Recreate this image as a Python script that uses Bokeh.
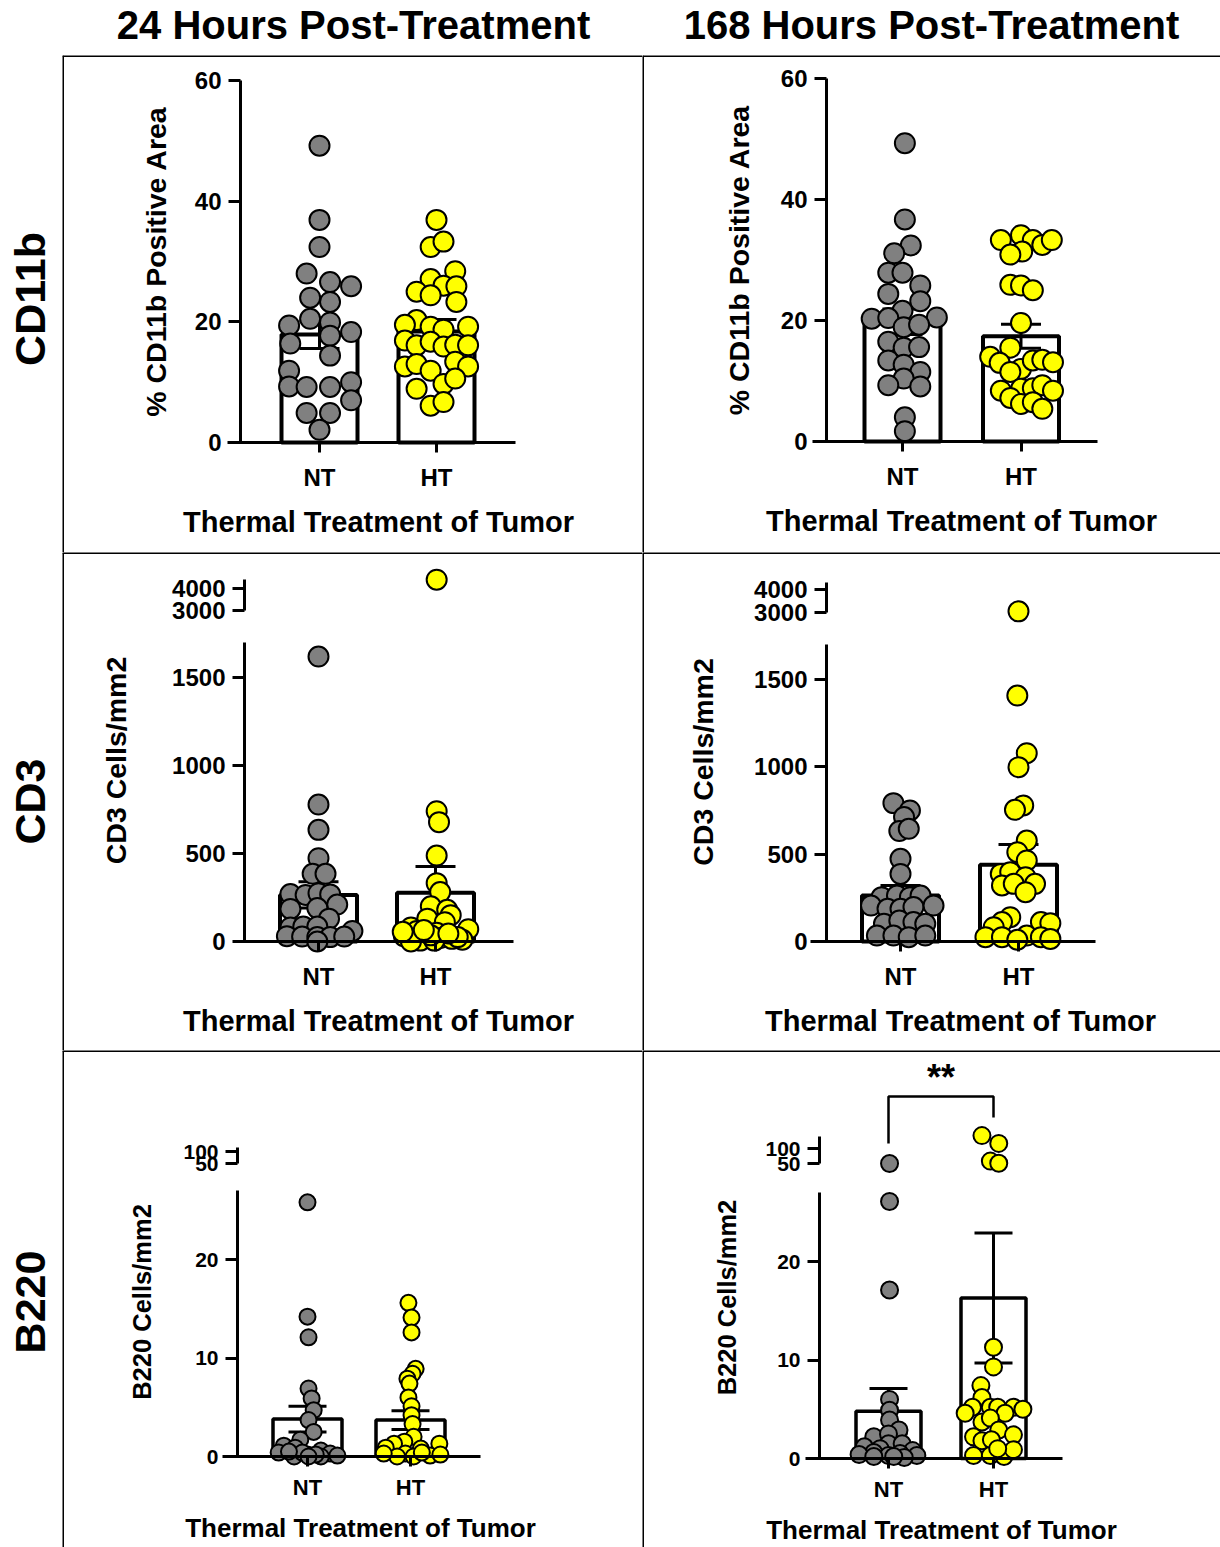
import math
from bokeh.plotting import figure
from bokeh.models import LinearAxis, FixedTicker, Range1d, Span, Label
from bokeh.core.properties import value
from bokeh.layouts import row, column
from bokeh.embed import file_html
from bokeh.resources import INLINE

FONT = "Liberation Sans"
NT_COLOR = "#808080"
HT_COLOR = "#ffff00"

col_titles = ["24 Hours Post-Treatment", "168 Hours Post-Treatment"]
row_labels = ["CD11b", "CD3", "B220"]
x_title = "Thermal Treatment of Tumor"
y_titles = ["% CD11b Positive Area", "CD3 Cells/mm2", "B220 Cells/mm2"]
groups = ["NT", "HT"]

# ---------------- data ----------------
# CD11b, 24 h
cd11b_24_nt = [49.2, 36.9, 32.4, 28.0, 26.6, 25.9, 24.0, 23.3, 20.5, 19.4, 19.9, 18.3, 17.7, 16.4, 14.4, 11.9,
               9.3, 9.2, 9.2, 10.0, 7.0, 4.9, 4.9, 2.1]
cd11b_24_nt_dx = [0, 0, 0, -0.11, 0.09, 0.27, -0.08, 0.09, -0.08, -0.26, 0.09, 0.27, 0.09, -0.25, 0.09, -0.26,
                  -0.26, -0.11, 0.09, 0.27, 0.27, -0.11, 0.09, 0]
cd11b_24_ht = [36.9, 32.4, 33.3, 28.4, 27.1, 25.0, 26.0, 25.9, 24.4, 23.3, 20.3, 19.5, 19.2, 18.7, 19.2, 16.9,
               16.1, 16.7, 15.9, 16.2, 16.1, 12.6, 13.0, 11.9, 13.4, 12.6, 8.9, 9.7, 10.6, 6.1, 6.7]
cd11b_24_ht_dx = [0, -0.05, 0.06, 0.16, -0.05, -0.17, 0.06, 0.17, -0.05, 0.17, -0.17, -0.27, -0.05, 0.06, 0.27,
                  -0.27, -0.17, -0.05, 0.06, 0.16, 0.27, -0.27, -0.17, -0.05, 0.16, 0.27, -0.17, 0.06, 0.16,
                  -0.05, 0.06]
cd11b_24_mean = [17.9, 18.4]
cd11b_24_sem = [2.3, 2.0]

# CD11b, 168 h
cd11b_168_nt = [49.3, 36.7, 32.4, 31.1, 27.9, 27.9, 25.8, 24.4, 23.2, 21.6, 20.3, 20.4, 20.5, 18.9, 19.3, 16.5,
                15.5, 15.6, 13.4, 12.7, 11.5, 10.4, 9.3, 9.1, 4.0, 1.7]
cd11b_168_nt_dx = [0.02, 0.02, 0.07, -0.07, -0.12, 0.0, 0.15, -0.12, 0.15, 0.0, -0.26, -0.12, 0.29, 0.01, 0.14,
                   -0.12, 0.01, 0.14, -0.12, 0.01, 0.15, 0.01, -0.12, 0.15, 0.02, 0.02]
cd11b_168_ht = [34.1, 33.3, 33.3, 32.5, 33.3, 31.4, 30.9, 25.9, 25.8, 25.0, 19.6, 15.5, 14.0, 13.0, 12.0, 13.4,
                13.5, 13.1, 11.5, 8.4, 8.7, 8.8, 9.3, 8.4, 7.2, 6.2, 6.5, 5.4]
cd11b_168_ht_dx = [0, -0.17, 0.10, 0.18, 0.26, 0.01, -0.09, -0.09, 0, 0.10, 0, -0.09, -0.26, -0.18, 0, 0.10,
                   0.18, 0.27, -0.09, -0.17, 0, 0.10, 0.18, 0.27, -0.09, 0, 0.10, 0.18]
cd11b_168_mean = [19.8, 17.4]
cd11b_168_sem = [2.1, 2.0]

# CD3, 24 h
cd3_24_nt = [1621, 779, 635, 474, 385, 385, 270, 265, 275, 268, 210, 185, 190, 130, 80, 85, 85, 60, 30, 28, 25,
             25, 28, 0]
cd3_24_nt_dx = [0, 0, 0, 0, -0.05, 0.06, -0.24, -0.11, 0, 0.10, 0.16, -0.24, -0.01, 0.09, -0.24, -0.13, -0.01,
                0.29, -0.27, -0.14, -0.01, 0.10, 0.22, -0.01]
cd3_24_ht = [741, 679, 489, 332, 281, 200, 180, 150, 130, 110, 80, 70, 60, 50, 40, 30, 20, 15, 10, 5, 5, 0, 25,
             35, 45, 55, 65]
cd3_24_ht_dx = [0.01, 0.03, 0.01, 0.01, 0.04, -0.04, 0.10, 0.13, -0.07, 0.08, -0.21, 0.28, -0.16, 0.01, -0.10,
                -0.27, 0.04, 0.14, 0.23, -0.13, -0.01, -0.21, 0.19, -0.04, 0.11, -0.28, -0.10]
cd3_24_ht_high = [4400]
cd3_24_ht_high_dx = [0.01]
cd3_24_mean = [265, 277]
cd3_24_sem = [75, 150]

# CD3, 168 h
cd3_168_nt = [792, 750, 712, 632, 645, 473, 387, 254, 263, 254, 263, 206, 187, 187, 197, 206, 101, 120, 111, 101,
              34, 34, 25, 34]
cd3_168_nt_dx = [-0.06, 0.08, 0.03, -0.01, 0.07, 0, 0, -0.16, -0.03, 0.08, 0.17, -0.25, -0.11, 0, 0.11, 0.28,
                 -0.14, -0.01, 0.11, 0.21, -0.20, -0.06, 0.07, 0.21]
cd3_168_ht = [1408, 1078, 998, 779, 754, 578, 511, 464, 387, 397, 368, 330, 321, 330, 282, 139, 111, 82, 111, 105,
              25, 25, 34, 25, 15, 10]
cd3_168_ht_dx = [-0.01, 0.07, 0, 0.04, -0.03, 0.07, -0.01, 0.07, -0.15, -0.07, 0.06, 0.14, -0.14, -0.04, 0.06,
                 -0.07, -0.14, -0.21, 0.19, 0.27, -0.28, -0.14, 0.07, 0.19, 0.27, -0.01]
cd3_168_ht_high = [3050]
cd3_168_ht_high_dx = [0.0]
cd3_168_mean = [263, 439]
cd3_168_sem = [57, 116]

# B220, 24 h
b220_24_nt = [25.8, 14.2, 12.1, 6.9, 5.9, 4.7, 3.7, 2.5, 1.7, 1.1, 0.9, 0.6, 0.4, 0.3, 0.2, 0.1, 0.0, 0.0, 0.4,
              0.5, 0.2, 0.0]
b220_24_nt_dx = [0, 0, 0.01, 0.01, 0.04, 0.06, 0.01, 0.06, -0.07, -0.23, -0.12, 0.13, -0.28, 0.22, 0, 0.29, -0.13,
                 0.13, -0.05, -0.18, 0.08, 0.01]
b220_24_ht = [15.6, 14.1, 12.6, 8.9, 8.4, 7.9, 7.4, 6.0, 5.1, 4.2, 3.3, 2.0, 1.5, 1.3, 0.9, 1.3, 0.8, 0.3, 0.0,
              0.3, 0.1, 0.2, 0.0, 0.4]
b220_24_ht_dx = [-0.02, 0.01, 0.01, 0.05, 0.02, -0.03, -0.01, -0.02, 0.01, 0.01, 0.02, 0.03, -0.06, -0.16, -0.24,
                 0.28, 0.10, -0.05, -0.13, -0.26, 0.19, 0.29, 0.03, 0.11]
b220_24_mean = [3.8, 3.7]
b220_24_sem = [1.3, 0.95]

# B220, 168 h
b220_168_nt = [26.1, 17.1, 6.0, 4.9, 3.9, 2.9, 2.2, 2.5, 1.5, 1.5, 1.2, 1.0, 0.8, 0.6, 0.5, 0.4, 0.3, 0.3, 0.2,
               0.1, 0.2]
b220_168_nt_dx = [0.01, 0.01, 0.01, 0.01, 0.01, 0.10, -0.14, 0, 0, 0.13, -0.23, -0.08, 0.23, -0.14, 0.11, -0.28,
                  0, 0.27, -0.14, 0.15, 0.05]
b220_168_nt_high = [50]
b220_168_nt_high_dx = [0.01]
b220_168_ht = [11.3, 9.3, 7.4, 6.2, 5.2, 5.2, 5.2, 5.2, 5.0, 4.6, 4.6, 3.7, 4.1, 2.9, 2.2, 2.4, 1.8, 1.9, 0.3, 0.3,
               0.2, 0.9, 1.0]
b220_168_ht_dx = [0, 0, -0.12, -0.11, -0.20, -0.03, 0.04, 0.19, 0.28, -0.27, 0.11, -0.11, -0.03, 0.05, -0.19,
                  0.19, -0.11, -0.02, -0.19, -0.03, 0.10, 0.19, 0.04]
b220_168_ht_high = [143, 117, 58, 51]
b220_168_ht_high_dx = [-0.11, 0.05, -0.03, 0.05]
b220_168_mean = [4.8, 16.3]
b220_168_sem = [2.3, 6.6]
sig_label = "**"

# ---------------- layout ----------------
HEAD_H = 55
STRIP_W = 62
COL_W = [580, 578]
ROW_H = [497, 498, 497]


def bare_fig(w, h, xr, yr):
    return figure(frame_width=w, frame_height=h, x_range=xr, y_range=yr, x_axis_type=None, y_axis_type=None,
                  toolbar_location=None, output_backend="svg", min_border=0, outline_line_color=None,
                  background_fill_color="white", border_fill_color="white")


def style_text_axis(ax, tick_size):
    ax.axis_line_width = 3
    ax.axis_line_color = "black"
    ax.major_tick_line_width = 3
    ax.major_tick_line_color = "black"
    ax.major_tick_in = 0
    ax.minor_tick_in = 0
    ax.minor_tick_out = 0
    ax.major_label_text_font = FONT
    ax.major_label_text_font_style = "bold"
    ax.major_label_text_font_size = tick_size
    ax.major_label_text_color = "black"


def make_panel(g, nt, nt_dx, ht, ht_dx, mean, sem, nt_hi=None, nt_hi_dx=None, ht_hi=None, ht_hi_dx=None):
    W, H = g["W"], g["H"]
    unit = g["ht"] - g["nt"]
    xo = lambda px: 1 + (px - g["nt"]) / unit
    yv = lambda py: (g["y0"] - py) / g["ppu"]
    p = bare_fig(W, H, Range1d(xo(0), xo(W)), Range1d(yv(H), yv(0)))
    yu = None
    if "upper" in g:
        (vlo, plo), (vhi, phi) = g["upper"]
        ppu_u = (plo - phi) / (vhi - vlo)
        yu = lambda py: vlo + (plo - py) / ppu_u
        p.extra_y_ranges = {"upper": Range1d(yu(H), yu(0))}

    # borders of the grid cell (left and top)
    p.add_layout(Span(location=xo(0), dimension="height", line_color="black", line_width=3))
    p.add_layout(Span(location=yv(0), dimension="width", line_color="black", line_width=3))

    ts = g["tick_font"]
    yax = LinearAxis(fixed_location=xo(g["axis_x"]), bounds=g["ybounds"], ticker=FixedTicker(ticks=g["yticks"]))
    style_text_axis(yax, ts)
    yax.major_tick_out = 12
    yax.major_label_standoff = 7
    p.add_layout(yax, "left")
    if yu is not None:
        uax = LinearAxis(y_range_name="upper", fixed_location=xo(g["axis_x"]), bounds=g["ubounds"],
                         ticker=FixedTicker(ticks=g["uticks"]))
        style_text_axis(uax, g.get("utick_font", ts))
        uax.major_tick_out = 12
        uax.major_label_standoff = 7
        p.add_layout(uax, "left")
    # y axis title, centred on the whole (possibly broken) axis
    lax = LinearAxis(fixed_location=xo(g["axis_x"]), bounds=(yv(g["ylab_px"][0]), yv(g["ylab_px"][1])),
                     ticker=FixedTicker(ticks=[]), axis_line_color=None, major_tick_out=0, major_tick_in=0,
                     minor_tick_out=0, minor_tick_in=0,
                     axis_label=g["ytitle"], axis_label_text_font=FONT, axis_label_text_font_style="bold",
                     axis_label_text_font_size=g["title_font"], axis_label_text_color="black",
                     axis_label_standoff=g["ylab_standoff"])
    p.add_layout(lax, "left")

    # x axis line + ticks at y = 0
    xline = LinearAxis(fixed_location=0, bounds=(xo(g["xax"][0]), xo(g["xax"][1])),
                       ticker=FixedTicker(ticks=[1, 2]), major_label_text_color=None)
    style_text_axis(xline, g["cat_font"])
    xline.major_label_text_color = None
    xline.major_tick_out = 10
    p.add_layout(xline, "below")
    # category labels + x title (title centred where the picture has it)
    c = g["xt_center"]
    xax = LinearAxis(fixed_location=0, bounds=(xo(c - 150), xo(c + 150)),
                     ticker=FixedTicker(ticks=[1, 2]), major_label_overrides={1: groups[0], 2: groups[1]})
    style_text_axis(xax, g["cat_font"])
    xax.axis_line_color = None
    xax.major_tick_line_color = None
    xax.major_tick_out = 10
    xax.major_label_standoff = g["cat_standoff"]
    xax.axis_label = x_title
    xax.axis_label_text_font = FONT
    xax.axis_label_text_font_style = "bold"
    xax.axis_label_text_font_size = g["xtitle_font"]
    xax.axis_label_text_color = "black"
    xax.axis_label_standoff = g["xt_standoff"]
    p.add_layout(xax, "below")

    # bars + error bars (mean +/- SEM)
    xs = [1, 2]
    bw = g["bar"] / unit
    cw = g["cap"] / unit / 2
    p.vbar(x=xs, top=mean, bottom=0, width=bw, fill_color="white", line_color="black", line_width=g["bar_lw"])
    lo = [m - s for m, s in zip(mean, sem)]
    hi = [m + s for m, s in zip(mean, sem)]
    p.segment(x0=xs, y0=lo, x1=xs, y1=hi, line_color="black", line_width=3)
    p.segment(x0=[x - cw for x in xs], y0=hi, x1=[x + cw for x in xs], y1=hi, line_color="black", line_width=3)
    p.segment(x0=[x - cw for x in xs], y0=lo, x1=[x + cw for x in xs], y1=lo, line_color="black", line_width=3)

    ms = g["marker"]
    p.scatter(x=[1 + d for d in nt_dx], y=nt, size=ms, fill_color=NT_COLOR, line_color="black", line_width=2)
    p.scatter(x=[2 + d for d in ht_dx], y=ht, size=ms, fill_color=HT_COLOR, line_color="black", line_width=2)
    if nt_hi:
        p.scatter(x=[1 + d for d in nt_hi_dx], y=nt_hi, size=ms, fill_color=NT_COLOR, line_color="black",
                  line_width=2, y_range_name="upper")
    if ht_hi:
        p.scatter(x=[2 + d for d in ht_hi_dx], y=ht_hi, size=ms, fill_color=HT_COLOR, line_color="black",
                  line_width=2, y_range_name="upper")
    return p, xo, yv, yu


row12 = dict(tick_font="24px", cat_font="24px", title_font="28.5px", xtitle_font="29px", cat_standoff=11,
             xt_standoff=12, marker=20, cap=40, bar_lw=4)
row3 = dict(tick_font="21px", utick_font="21px", cat_font="22px", title_font="25.5px", xtitle_font="26px",
            cat_standoff=8, xt_standoff=10, marker=16, cap=38, bar_lw=3.5)

gA = dict(row12, W=COL_W[0], H=ROW_H[0], axis_x=178, nt=257, ht=374, y0=387, ppu=6.033, ybounds=(0, 60),
          yticks=[0, 20, 40, 60], xax=(165, 453), xt_center=316, bar=76, ylab_px=(387, 25), ylab_standoff=69,
          ytitle=y_titles[0])
gB = dict(row12, W=COL_W[1], H=ROW_H[0], axis_x=184, nt=260, ht=378.5, y0=386, ppu=6.05, ybounds=(0, 60),
          yticks=[0, 20, 40, 60], xax=(170, 455), xt_center=319, bar=76, ylab_px=(386, 23), ylab_standoff=72,
          ytitle=y_titles[0])
gC = dict(row12, W=COL_W[0], H=ROW_H[1], axis_x=182, nt=256, ht=373, y0=389, ppu=0.1758, ybounds=(0, 1700),
          yticks=[0, 500, 1000, 1500], upper=((3000, 58), (4000, 36)), ubounds=(3000, 4400),
          uticks=[3000, 4000], xax=(176, 451), xt_center=316, bar=77, ylab_px=(389, 27), ylab_standoff=113,
          ytitle=y_titles[1])
gD = dict(row12, W=COL_W[1], H=ROW_H[1], axis_x=184, nt=258, ht=376, y0=389, ppu=0.1747, ybounds=(0, 1700),
          yticks=[0, 500, 1000, 1500], upper=((3000, 60), (4000, 37)), ubounds=(3000, 4300),
          uticks=[3000, 4000], xax=(168, 453), xt_center=318, bar=77, ylab_px=(389, 30), ylab_standoff=108,
          ytitle=y_titles[1])
gE = dict(row3, W=COL_W[0], H=ROW_H[2], axis_x=175, nt=245, ht=348, y0=406, ppu=9.85, ybounds=(0, 27),
          yticks=[0, 10, 20], upper=((50, 113), (100, 101)), ubounds=(50, 117), uticks=[50, 100],
          xax=(160, 418), xt_center=298, bar=69, ylab_px=(406, 97), ylab_standoff=82, ytitle=y_titles[2])
gF = dict(row3, W=COL_W[1], H=ROW_H[2], axis_x=177, nt=246, ht=351, y0=408, ppu=9.85, ybounds=(0, 27),
          yticks=[0, 10, 20], upper=((50, 113), (100, 98)), ubounds=(50, 140), uticks=[50, 100],
          xax=(163, 420), xt_center=299, bar=65, ylab_px=(408, 86), ylab_standoff=79, ytitle=y_titles[2],
          marker=17)

pA, *_ = make_panel(gA, cd11b_24_nt, cd11b_24_nt_dx, cd11b_24_ht, cd11b_24_ht_dx, cd11b_24_mean, cd11b_24_sem)
pB, *_ = make_panel(gB, cd11b_168_nt, cd11b_168_nt_dx, cd11b_168_ht, cd11b_168_ht_dx, cd11b_168_mean,
                    cd11b_168_sem)
pC, *_ = make_panel(gC, cd3_24_nt, cd3_24_nt_dx, cd3_24_ht, cd3_24_ht_dx, cd3_24_mean, cd3_24_sem,
                    ht_hi=cd3_24_ht_high, ht_hi_dx=cd3_24_ht_high_dx)
pD, *_ = make_panel(gD, cd3_168_nt, cd3_168_nt_dx, cd3_168_ht, cd3_168_ht_dx, cd3_168_mean, cd3_168_sem,
                    ht_hi=cd3_168_ht_high, ht_hi_dx=cd3_168_ht_high_dx)
pE, *_ = make_panel(gE, b220_24_nt, b220_24_nt_dx, b220_24_ht, b220_24_ht_dx, b220_24_mean, b220_24_sem)
pF, xoF, yvF, yuF = make_panel(gF, b220_168_nt, b220_168_nt_dx, b220_168_ht, b220_168_ht_dx, b220_168_mean,
                               b220_168_sem, nt_hi=b220_168_nt_high, nt_hi_dx=b220_168_nt_high_dx,
                               ht_hi=b220_168_ht_high, ht_hi_dx=b220_168_ht_high_dx)

# significance bracket NT vs HT (168 h, B220)
pF.line(x=[1, 1, 2, 2], y=[yuF(93), yuF(46), yuF(46), yuF(67)], y_range_name="upper",
        line_color="black", line_width=2.5)
pF.add_layout(Label(x=1.5, y=yuF(27), y_range_name="upper", text=sig_label, text_align="center",
                    text_baseline="middle", text_font=FONT, text_font_style="bold", text_font_size="36px",
                    text_color="black"))

# column titles (header strip)
total_w = STRIP_W + sum(COL_W)
head = bare_fig(total_w, HEAD_H, Range1d(0, total_w), Range1d(HEAD_H, 0))
head.text(x=[STRIP_W + COL_W[0] / 2 + 1, STRIP_W + COL_W[0] + COL_W[1] / 2],
          y=[24, 24], text=col_titles, text_font=value(FONT), text_font_style="bold",
          text_font_size="40px", text_align="center", text_baseline="middle", text_color="black")

# row labels (left strip)
total_h = sum(ROW_H)
strip = bare_fig(STRIP_W, total_h, Range1d(0, STRIP_W), Range1d(total_h, 0))
strip.text(x=[29, 29, 29], y=[ROW_H[0] / 2 - 5, ROW_H[0] + ROW_H[1] / 2, ROW_H[0] + ROW_H[1] + ROW_H[2] / 2 + 3],
           text=row_labels, angle=math.pi / 2, text_font=value(FONT), text_font_style="bold",
           text_font_size="43px", text_align="center", text_baseline="middle", text_color="black")

grid = column(row(pA, pB), row(pC, pD), row(pE, pF))
layout = column(head, row(strip, grid))
open("out.html", "w").write(file_html(layout, INLINE))
